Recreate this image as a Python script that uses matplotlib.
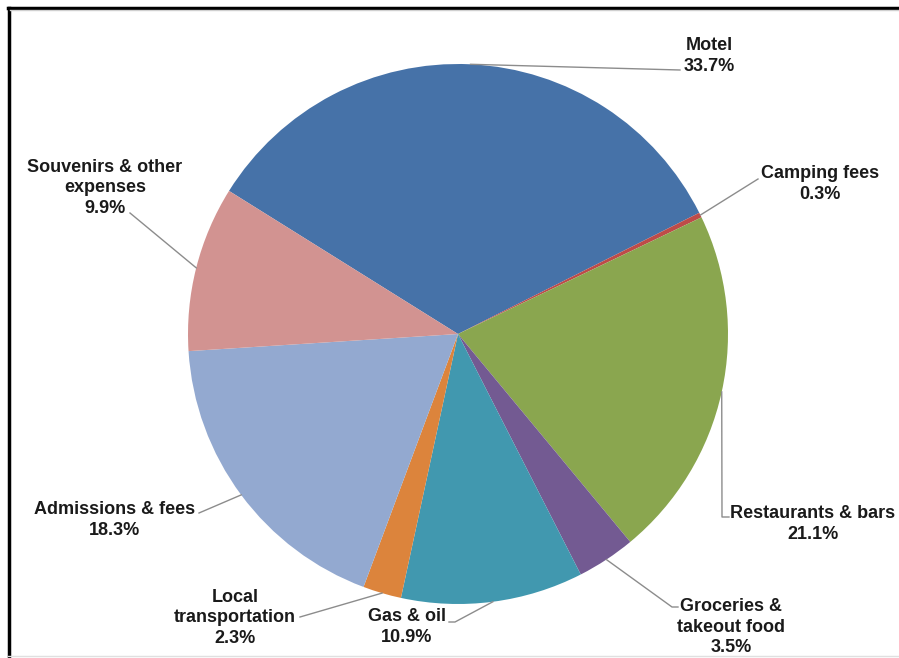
import numpy as np
import matplotlib
matplotlib.use("Agg")
import matplotlib.pyplot as plt
from matplotlib.lines import Line2D

plt.rcParams['font.family'] = ['Liberation Sans', 'DejaVu Sans']

# data
categories = ['Motel', 'Camping fees', 'Restaurants & bars', 'Groceries &\ntakeout food',
              'Gas & oil', 'Local\ntransportation', 'Admissions & fees',
              'Souvenirs & other\nexpenses']
shares = [33.7, 0.3, 21.1, 3.5, 10.9, 2.3, 18.3, 9.9]
colors = ['#4672A8', '#BE4B48', '#8AA64F', '#735A92', '#4198AF', '#DC843C',
          '#93A9D0', '#D29391']

W, H = 899, 658
CX, CY, R = 458, 334, 270   # pie centre / radius in pixels (from top)
START = 148

# label anchor (text centre) and leader-line elbow, pixels from top-left
label_pos = [(709, 56), (820, 184), (813, 524), (731, 627), (407, 627),
             (235, 618), (115, 520), (105, 188)]
elbows = [[(680, 70)], [(758, 179)], [(722, 517), (729, 517)],
          [(672, 607), (678, 607)], [(455, 622), (449, 622)],
          [(300, 617)], [(199, 513)], [(130, 213)]]

fig = plt.figure(figsize=(W / 100, H / 100), dpi=100)
ax = fig.add_axes([0, 0, 1, 1])
ax.set_xlim(0, W)
ax.set_ylim(0, H)
ax.set_aspect('equal')
ax.axis('off')

wedges, _ = ax.pie(shares, colors=colors, startangle=START, counterclock=False,
                   center=(CX, H - CY), radius=R,
                   wedgeprops=dict(linewidth=0))
ax.set_xlim(0, W)
ax.set_ylim(0, H)

for w, name, val, (lx, ly), elb in zip(wedges, categories, shares, label_pos, elbows):
    mid = np.deg2rad((w.theta1 + w.theta2) / 2)
    x0 = CX + R * np.cos(mid)
    y0 = (H - CY) + R * np.sin(mid)
    xs = [x0] + [e[0] for e in elb]
    ys = [y0] + [H - e[1] for e in elb]
    ax.plot(xs, ys, color='#8c8c8c', lw=1.0, zorder=3)
    ax.text(lx, H - ly, f'{name}\n{val}%', ha='center', va='center',
            fontsize=13, fontweight='bold', color='#1a1a1a', linespacing=1.3)

# frame lines
fig.add_artist(Line2D([8 / W, 1], [1 - 7.5 / H, 1 - 7.5 / H], color='black', lw=2.5))
fig.add_artist(Line2D([8.5 / W, 8.5 / W], [0, 1 - 7.5 / H], color='black', lw=2.5))
fig.add_artist(Line2D([10 / W, 1], [1 - 10 / H, 1 - 10 / H], color='#d0d0d0', lw=1))
fig.add_artist(Line2D([8 / W, 1], [1 - 656 / H, 1 - 656 / H], color='#e0e0e0', lw=1))

fig.savefig('out.png', dpi=100)
